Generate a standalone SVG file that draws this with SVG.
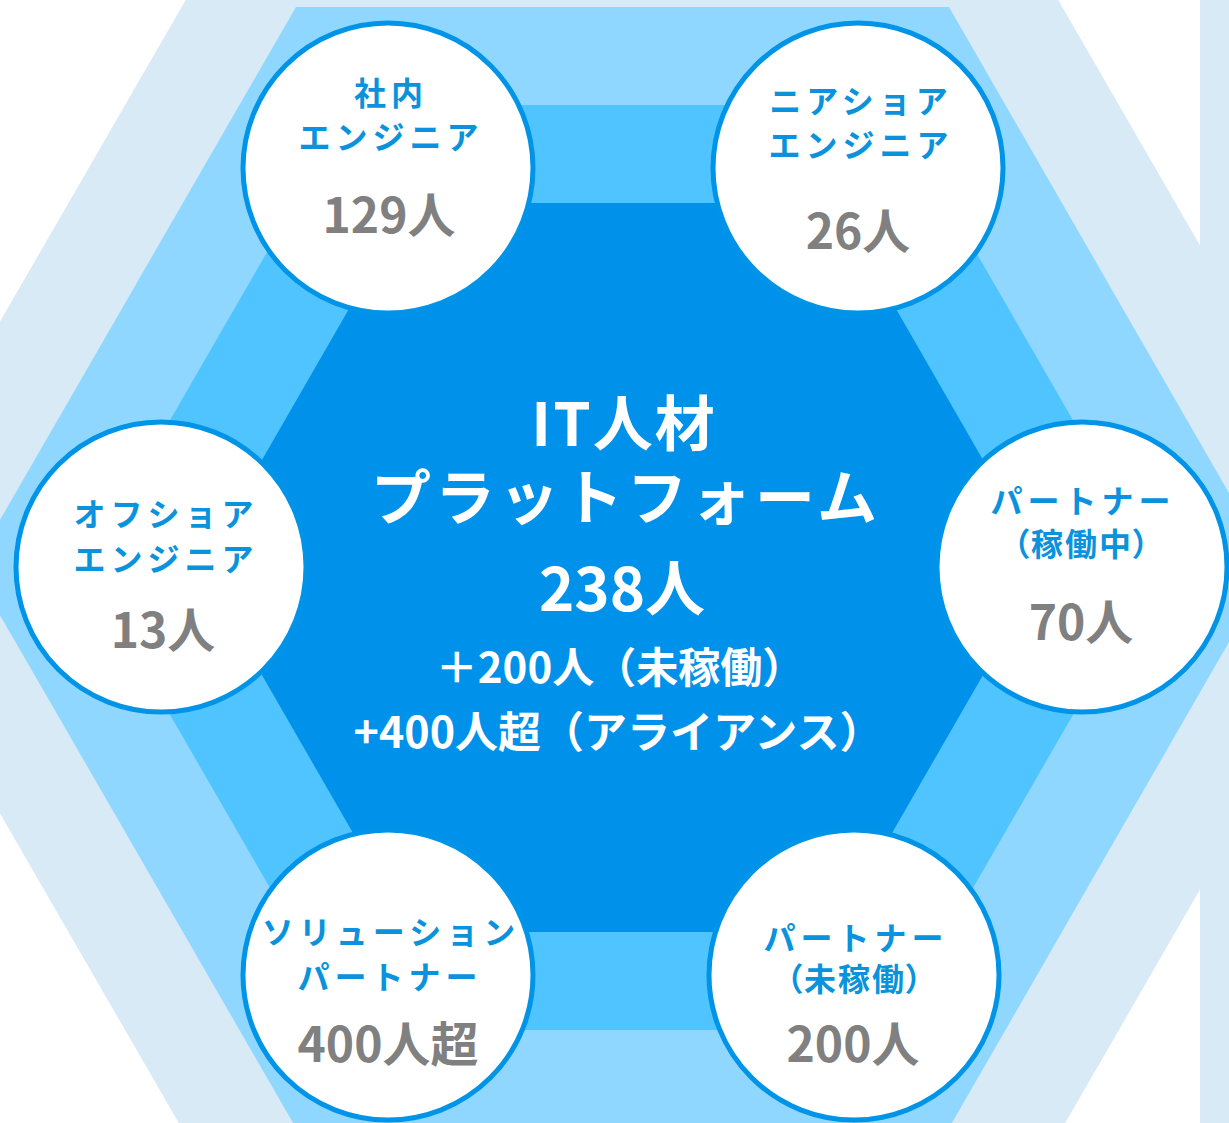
<svg xmlns="http://www.w3.org/2000/svg" width="1229" height="1123" viewBox="0 0 1229 1123">
<style>
text{font-family:"Noto Sans CJK JP","Noto Sans",sans-serif;font-weight:700;text-anchor:middle}
.lbl{fill:#0a93dc;font-size:32px;letter-spacing:5px}
.par{fill:#0a93dc;font-size:32px;font-feature-settings:"palt";letter-spacing:2px}
.num{fill:#808080;font-size:48px}
.c{fill:#fff;stroke:#0094e8;stroke-width:5}
.ct{fill:#fff}
</style>
<rect width="1229" height="1123" fill="#ffffff"/>
<g id="background">
<polygon points="-142,567.5 240,-94 1004,-94 1386,567.5 1004,1229 240,1229" fill="#d9eaf7"/>
<rect x="1200" y="0" width="29" height="1123" fill="#d9eaf7"/>
<polygon points="-27.5,567.5 296,7 949,7 1272,567.5 949,1128 296,1128" fill="#8fd7fe"/>
<polygon points="85,567.5 352,105 891,105 1158,567.5 891,1030 352,1030" fill="#50c4fe"/>
</g>
<g id="center">
<polygon points="200,567.5 410,203 835,203 1045,567.5 835,932 410,932" fill="#0092ea"/>
<text class="ct" x="624" y="446" font-size="60" letter-spacing="2">IT人材</text>
<text class="ct" x="626" y="520" font-size="60" letter-spacing="4">プラットフォーム</text>
<text class="ct" x="622" y="611" font-size="60">238人</text>
<text class="ct" x="620" y="683" font-size="42">＋200人（未稼働）</text>
<text class="ct" x="618" y="748" font-size="43">+400人超（アライアンス）</text>
</g>
<g id="connectors"></g>
<g id="node-inhouse">
<circle class="c" cx="388" cy="168" r="145"/>
<text class="lbl" x="391" y="105">社内</text>
<text class="lbl" x="391" y="149">エンジニア</text>
<text class="num" x="389" y="233">129人</text>
</g>
<g id="node-nearshore">
<circle class="c" cx="858" cy="168" r="145"/>
<text class="lbl" x="861" y="113">ニアショア</text>
<text class="lbl" x="861" y="157">エンジニア</text>
<text class="num" x="858" y="249">26人</text>
</g>
<g id="node-offshore">
<circle class="c" cx="161" cy="567" r="145"/>
<text class="lbl" x="166" y="526">オフショア</text>
<text class="lbl" x="166" y="571">エンジニア</text>
<text class="num" x="163" y="648">13人</text>
</g>
<g id="node-partner-active">
<circle class="c" cx="1082" cy="567" r="145"/>
<text class="lbl" x="1083" y="513">パートナー</text>
<text class="par" x="1082" y="556">（稼働中）</text>
<text class="num" x="1081" y="640">70人</text>
</g>
<g id="node-solution">
<circle class="c" cx="388" cy="975" r="145"/>
<text class="lbl" x="391" y="944" letter-spacing="1">ソリューション</text>
<text class="lbl" x="390" y="989" letter-spacing="2">パートナー</text>
<text class="num" x="388" y="1062">400人超</text>
</g>
<g id="node-partner-idle">
<circle class="c" cx="854" cy="975" r="145"/>
<text class="lbl" x="856" y="950">パートナー</text>
<text class="par" x="855" y="991">（未稼働）</text>
<text class="num" x="853" y="1062">200人</text>
</g>
</svg>
